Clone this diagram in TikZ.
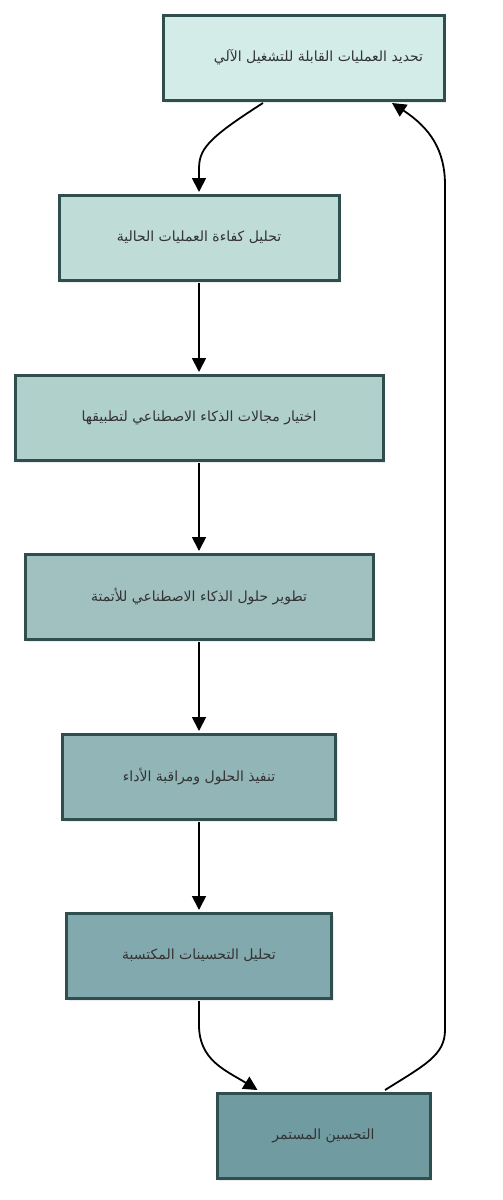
\documentclass[tikz,border=0pt]{standalone}
\usepackage{fontspec}
\newfontfamily\arabicfont[Script=Arabic]{DejaVu Sans}
\TeXXeTstate=1
\usetikzlibrary{arrows.meta,shadows}
\definecolor{cA}{HTML}{D3ECE8}
\definecolor{cB}{HTML}{BFDCD7}
\definecolor{cC}{HTML}{B0D0CC}
\definecolor{cD}{HTML}{A1C1C1}
\definecolor{cE}{HTML}{92B5B7}
\definecolor{cF}{HTML}{82A9AD}
\definecolor{cG}{HTML}{6F9BA1}
\definecolor{bord}{HTML}{2F4F4F}
\definecolor{txt}{HTML}{333333}
\tikzset{
  stepbox/.style={draw=bord, line width=3pt, minimum height=85pt, inner sep=0pt,
    text=txt, font=\arabicfont\fontsize{14}{16}\selectfont,
    drop shadow={shadow xshift=2pt, shadow yshift=-3pt, opacity=0.15}},
  conn/.style={draw=black, line width=1.8pt, -{Triangle[width=14pt,length=14pt]}}
}
\begin{document}
\begin{tikzpicture}[x=1pt,y=-1pt]
\useasboundingbox (0,0) rectangle (503,1200);
\node[stepbox, fill=cA, minimum width=281pt] (n1) at (303.5,57.5) {\hspace*{30pt}\beginR تحديد العمليات القابلة للتشغيل الآلي\endR};
\node[stepbox, fill=cB, minimum width=280pt] (n2) at (199,237.5) {\beginR تحليل كفاءة العمليات الحالية\endR};
\node[stepbox, fill=cC, minimum width=368pt] (n3) at (199,417.5) {\beginR اختيار مجالات الذكاء الاصطناعي لتطبيقها\endR};
\node[stepbox, fill=cD, minimum width=348pt] (n4) at (199,596.5) {\beginR تطوير حلول الذكاء الاصطناعي للأتمتة\endR};
\node[stepbox, fill=cE, minimum width=273pt] (n5) at (199,776.5) {\beginR تنفيذ الحلول ومراقبة الأداء\endR};
\node[stepbox, fill=cF, minimum width=265pt] (n6) at (199,955.5) {\beginR تحليل التحسينات المكتسبة\endR};
\node[stepbox, fill=cG, minimum width=213pt] (n7) at (323.5,1135.5) {\beginR التحسين المستمر\endR};
\coordinate (k1) at (199,170);
\coordinate (k6) at (199,1025);
\coordinate (lb) at (445,1030);
\coordinate (lt) at (445,185);
\draw[conn] ([xshift=-40.5pt,yshift=-1.5pt]n1.south) .. controls (205,140) and (199,150) .. (k1) -- ([yshift=1.5pt]n2.north);
\draw[conn] ([yshift=-1.5pt]n2.south) -- ([yshift=1.5pt]n3.north);
\draw[conn] ([yshift=-1.5pt]n3.south) -- ([yshift=1.5pt]n4.north);
\draw[conn] ([yshift=-1.5pt]n4.south) -- ([yshift=1.5pt]n5.north);
\draw[conn] ([yshift=-1.5pt]n5.south) -- ([yshift=1.5pt]n6.north);
\draw[conn] ([yshift=-1.5pt]n6.south) -- (k6) .. controls (199,1060) and (225,1070) .. ([xshift=-66pt,yshift=1.5pt]n7.north);
\draw[conn] ([xshift=61.5pt,yshift=1.5pt]n7.north) .. controls (425,1065) and (445,1055) .. (lb) -- (lt) .. controls (445,150) and (430,128) .. ([xshift=88.5pt,yshift=-1.5pt]n1.south);
\end{tikzpicture}
\end{document}
